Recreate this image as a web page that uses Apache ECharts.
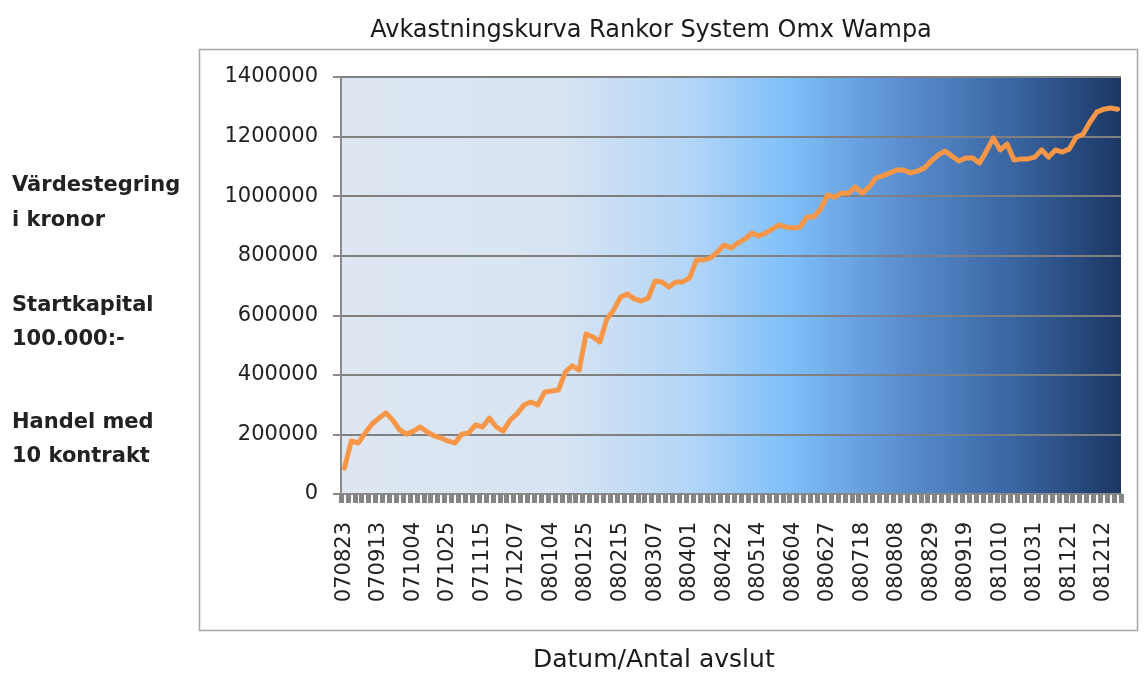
<!DOCTYPE html>
<html>
<head>
<meta charset="utf-8">
<script src="https://cdn.jsdelivr.net/npm/echarts@6/dist/echarts.min.js"></script>
<style>
  html, body { margin: 0; padding: 0; background: #ffffff; }
  #chart { width: 1145px; height: 678px; }
</style>
</head>
<body>
<div id="chart"></div>
<script>
// Tick labels shown on the category axis (one every 5 data points)
const tickLabels = ['070823','070913','071004','071025','071115','071207','080104','080125',
  '080215','080307','080401','080422','080514','080604','080627','080718','080808','080829',
  '080919','081010','081031','081121','081212'];
const labelStep = 5;

// Equity curve values (kronor)
const equity = [
  87000, 178000, 171000, 205000, 235000, 255000, 272000, 248000, 215000, 201000,
  211000, 225000, 208000, 195000, 188000, 178000, 171000, 201000, 205000, 232000,
  225000, 255000, 225000, 211000, 248000, 269000, 299000, 309000, 299000, 342000,
  346000, 349000, 410000, 430000, 416000, 537000, 527000, 510000, 587000, 618000,
  661000, 671000, 655000, 648000, 658000, 715000, 712000, 695000, 712000, 712000,
  725000, 786000, 786000, 792000, 812000, 836000, 826000, 843000, 856000, 876000,
  866000, 876000, 890000, 903000, 896000, 893000, 896000, 930000, 930000, 957000,
  1004000, 997000, 1010000, 1010000, 1031000, 1010000, 1031000, 1061000, 1068000, 1078000,
  1088000, 1088000, 1078000, 1084000, 1094000, 1118000, 1138000, 1151000, 1135000, 1118000,
  1128000, 1128000, 1111000, 1151000, 1195000, 1155000, 1175000, 1121000, 1125000, 1125000,
  1131000, 1155000, 1131000, 1155000, 1148000, 1158000, 1198000, 1208000, 1249000, 1282000,
  1292000, 1296000, 1292000
];

const yMin = 0, yMax = 1400000, yStep = 200000;

const titleText = 'Avkastningskurva Rankor System Omx Wampa';
const xName = 'Datum/Antal avslut';
const sideLines = ['Värdestegring', 'i kronor', 'Startkapital', '100.000:-', 'Handel med', '10 kontrakt'];

// category names: visible label every labelStep points, hidden unique names otherwise
const categories = equity.map((v, i) => {
  const k = Math.floor(i / labelStep);
  return (i % labelStep === 0) ? tickLabels[k] : (tickLabels[k] + '_' + (i % labelStep));
});

const sideBaselines = [196, 231, 316, 350, 433, 467];

const chart = echarts.init(document.getElementById('chart'), null, { renderer: 'canvas' });

const option = {
  backgroundColor: '#ffffff',
  animation: false,
  title: {
    text: titleText,
    left: 646,
    top: 14,
    textAlign: 'center',
    textStyle: { fontFamily: 'DejaVu Sans', fontSize: 24, fontWeight: 'normal', color: '#1a1a1a' }
  },
  grid: {
    left: 341, top: 77, width: 780, height: 417,
    show: true,
    borderWidth: 0,
    backgroundColor: new echarts.graphic.LinearGradient(0, 0, 1, 0, [
      { offset: 0, color: '#dde6f1' },
      { offset: 0.28, color: '#d8e4f2' },
      { offset: 0.45, color: '#b2d5f7' },
      { offset: 0.57, color: '#80c0fa' },
      { offset: 0.72, color: '#5a8ecf' },
      { offset: 0.86, color: '#3a66a2' },
      { offset: 1, color: '#1b3764' }
    ])
  },
  xAxis: {
    type: 'category',
    data: categories,
    boundaryGap: true,
    axisLine: { show: true, lineStyle: { color: '#8a8a8a', width: 2 } },
    axisTick: { show: true, interval: 0, length: 9, lineStyle: { color: '#858585', width: 5 } },
    axisLabel: {
      interval: labelStep - 1,
      rotate: 90,
      margin: 28,
      fontFamily: 'DejaVu Sans',
      fontSize: 21,
      color: '#222222'
    },
    splitLine: { show: false }
  },
  yAxis: {
    type: 'value',
    min: yMin, max: yMax, interval: yStep,
    axisLine: { show: true, lineStyle: { color: '#8a8a8a', width: 2 } },
    axisTick: { show: true, length: 8, lineStyle: { color: '#8a8a8a', width: 2 } },
    axisLabel: {
      margin: 23, fontFamily: 'DejaVu Sans', fontSize: 21, color: '#222222',
      formatter: (v) => String(v)
    },
    splitLine: { show: true, lineStyle: { color: '#808080', width: 2 } }
  },
  series: [{
    type: 'line',
    data: equity,
    showSymbol: false,
    symbol: 'none',
    smooth: false,
    lineStyle: { color: '#f79646', width: 5, join: 'round', cap: 'round' },
    z: 5
  }],
  graphic: [
    {
      type: 'rect',
      shape: { x: 199.5, y: 49.5, width: 938, height: 581 },
      style: { fill: 'none', stroke: '#a6a6a6', lineWidth: 1.5 },
      silent: true, z: -1
    },
    {
      type: 'text',
      left: 533, top: 648,
      style: { text: xName, fontFamily: 'DejaVu Sans', fontSize: 25, fill: '#1a1a1a' }
    }
  ].concat(sideLines.map((t, i) => ({
    type: 'text',
    x: 12, y: sideBaselines[i],
    style: { text: t, fontFamily: 'DejaVu Sans', fontWeight: 'bold', fontSize: 21,
             fill: '#222222', textVerticalAlign: 'bottom', verticalAlign: 'alphabetic' }
  })))
};

chart.setOption(option);
</script>
</body>
</html>
